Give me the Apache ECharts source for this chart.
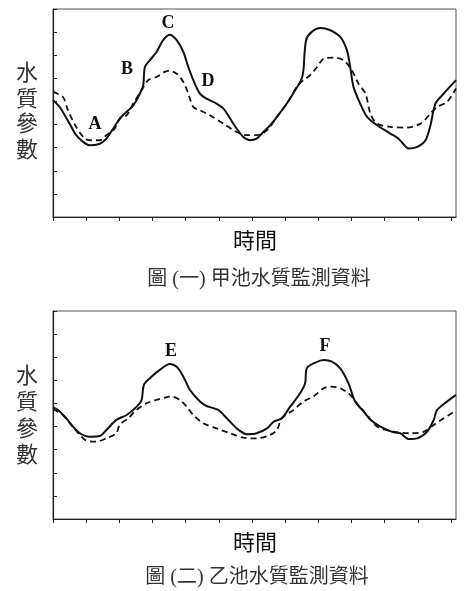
<!DOCTYPE html>
<html><head><meta charset="utf-8">
<script src="https://cdn.jsdelivr.net/npm/echarts@6/dist/echarts.min.js"></script>
<style>html,body{margin:0;padding:0;background:#fff}#c{width:468px;height:591px}</style>
</head><body><div id="c"></div>
<script>
// x in tick units (12 ticks), y in tick units (9 ticks)
const tickValues = [0,1,2,3,4,5,6,7,8,9,10,11,12];
const poolA_solid = [[0,5.05],[0.20,4.76],[0.50,4.04],[0.70,3.54],[0.91,3.25],[1.11,3.10],[1.41,3.17],[1.61,3.39],[1.81,3.82],[2.06,4.33],[2.42,4.83],[2.62,5.34],[2.72,5.70],[2.77,6.49],[2.92,6.78],[3.12,7.14],[3.32,7.65],[3.52,7.89],[3.73,7.65],[3.93,7.14],[4.08,6.49],[4.23,5.92],[4.43,5.34],[4.63,5.12],[4.93,4.91],[5.14,4.69],[5.34,4.26],[5.54,3.82],[5.74,3.46],[5.94,3.32],[6.14,3.39],[6.34,3.68],[6.55,3.97],[6.75,4.33],[7.05,4.91],[7.30,5.48],[7.50,5.99],[7.55,6.35],[7.63,7.65],[7.80,8.01],[8.06,8.18],[8.36,8.08],[8.66,7.79],[8.86,7.22],[8.96,6.49],[9.06,5.63],[9.26,4.91],[9.47,4.33],[9.77,3.97],[10.17,3.61],[10.42,3.39],[10.73,2.96],[10.98,3.03],[11.23,3.32],[11.38,3.97],[11.53,4.91],[11.78,5.34],[12.15,5.92]];
const poolA_dashed = [[0,5.41],[0.30,5.19],[0.45,4.62],[0.70,3.90],[0.96,3.39],[1.16,3.32],[1.41,3.32],[1.61,3.54],[1.86,3.82],[2.01,4.26],[2.22,4.40],[2.42,4.91],[2.67,5.48],[2.87,5.92],[3.12,6.06],[3.37,6.28],[3.52,6.32],[3.73,6.20],[3.93,5.84],[4.08,5.34],[4.23,4.76],[4.43,4.62],[4.73,4.40],[5.14,4.04],[5.54,3.68],[5.84,3.54],[6.14,3.54],[6.45,3.75],[6.75,4.33],[7.05,4.91],[7.35,5.63],[7.55,5.92],[7.75,6.13],[7.96,6.49],[8.16,6.85],[8.46,6.90],[8.76,6.78],[9.01,6.35],[9.21,5.77],[9.42,5.34],[9.57,4.47],[9.77,4.04],[10.17,3.90],[10.67,3.87],[11.08,4.04],[11.38,4.47],[11.58,4.76],[11.88,4.98],[12.15,5.56]];
const poolB_solid = [[0,4.83],[0.15,4.72],[0.40,4.36],[0.60,4.00],[0.81,3.71],[1.11,3.56],[1.41,3.59],[1.61,3.85],[1.91,4.29],[2.22,4.50],[2.52,4.86],[2.67,5.15],[2.74,5.80],[2.92,6.09],[3.22,6.45],[3.52,6.71],[3.73,6.59],[3.93,6.16],[4.13,5.58],[4.43,5.08],[4.63,4.89],[4.98,4.72],[5.24,4.36],[5.54,3.92],[5.84,3.67],[6.14,3.71],[6.45,3.92],[6.65,4.21],[6.90,4.36],[7.15,4.86],[7.45,5.44],[7.60,5.87],[7.65,6.52],[7.91,6.77],[8.16,6.88],[8.41,6.81],[8.66,6.52],[8.91,5.87],[9.11,5.08],[9.37,4.65],[9.57,4.29],[9.87,4.00],[10.27,3.75],[10.47,3.71],[10.73,3.46],[10.98,3.49],[11.28,3.78],[11.48,4.29],[11.58,4.72],[11.88,5.08],[12.15,5.37]];
const poolB_dashed = [[0,4.75],[0.30,4.50],[0.55,4.07],[0.81,3.64],[1.01,3.39],[1.31,3.35],[1.61,3.49],[1.91,3.71],[2.01,4.07],[2.27,4.36],[2.52,4.72],[2.82,5.01],[3.12,5.15],[3.37,5.25],[3.58,5.30],[3.83,5.15],[4.03,4.86],[4.23,4.50],[4.53,4.14],[4.93,3.92],[5.34,3.71],[5.74,3.52],[6.14,3.49],[6.55,3.64],[6.75,3.85],[6.90,4.36],[7.25,4.72],[7.55,5.08],[7.85,5.30],[8.16,5.66],[8.36,5.73],[8.66,5.66],[8.96,5.37],[9.16,5.01],[9.47,4.50],[9.77,4.00],[10.27,3.78],[10.78,3.71],[11.18,3.78],[11.48,4.07],[11.78,4.36],[12.15,4.69]];
const xTitle = '時間';
const yTitle = '水\n質\n參\n數';
const captionA = '圖 (一) 甲池水質監測資料';
const captionB = '圖 (二) 乙池水質監測資料';
const peakLabelsA = [['A',95,124],['B',127,69],['C',168,23],['D',208,81]];
const peakLabelsB = [['E',171,351],['F',325,346]];

const cjk = '"Noto Sans CJK TC", "Noto Sans CJK SC", sans-serif';
const capFont = '"Liberation Serif", "Noto Sans CJK TC", serif';
function xAxis(i){return {gridIndex:i,type:'value',min:0,max:12.15,
  axisLine:{lineStyle:{color:'#222',width:1.2}},
  axisTick:{show:true,inside:false,length:4,customValues:tickValues,lineStyle:{color:'#222'}},
  axisLabel:{show:false},splitLine:{show:false}};}
function yAxis(i){return {gridIndex:i,type:'value',min:0,max:9,interval:1,
  axisLine:{show:true,lineStyle:{color:'#222',width:1.2}},
  axisTick:{show:true,inside:true,length:4,lineStyle:{color:'#222'}},
  axisLabel:{show:false},splitLine:{show:false}};}
function line(data,idx,dashed){return {type:'line',xAxisIndex:idx,yAxisIndex:idx,data:data,
  showSymbol:false,smooth:0.3,lineStyle:{color:'#111',width:dashed?1.8:2,type:dashed?[6,4]:'solid'},silent:true,animation:false};}
const gfx=[];
function txt(t,x,y,font,extra){gfx.push(Object.assign({type:'text',x:x,y:y,style:Object.assign({text:t,font:font,fill:'#222',align:'center',verticalAlign:'middle'},extra||{})}));}
txt(xTitle,255,240,'22px '+cjk,{fill:'#111'});
txt(xTitle,255,542,'22px '+cjk,{fill:'#111'});
txt(captionA,259,280,'20px '+capFont,{fill:'#333'});
txt(captionB,257,578,'20px '+capFont,{fill:'#333'});
txt(yTitle,27,110,'22px '+cjk,{lineHeight:25.5,fill:'#333'});
txt(yTitle,27,414,'22px '+cjk,{lineHeight:26.5,fill:'#333'});
peakLabelsA.concat(peakLabelsB).forEach(p=>txt(p[0],p[1],p[2],'bold 18px "Liberation Serif", "Times New Roman", serif',{fill:'#111'}));

const chart=echarts.init(document.getElementById('c'),null,{renderer:'canvas'});
chart.setOption({
  animation:false,
  grid:[{left:53,top:9,width:403,height:208,show:true,borderColor:'#555',borderWidth:1},
        {left:53,top:311,width:403,height:208,show:true,borderColor:'#555',borderWidth:1}],
  xAxis:[xAxis(0),xAxis(1)],
  yAxis:[yAxis(0),yAxis(1)],
  series:[line(poolA_solid,0,false),line(poolA_dashed,0,true),line(poolB_solid,1,false),line(poolB_dashed,1,true)],
  graphic:gfx
});
</script></body></html>
